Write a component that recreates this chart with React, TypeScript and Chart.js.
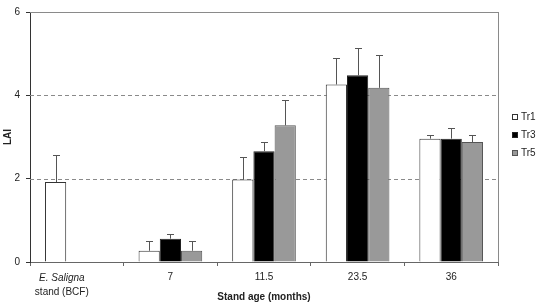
import React, { useEffect, useRef } from "react";
import { Chart, registerables } from "chart.js";

Chart.register(...registerables);

const categories = ["", "7", "11.5", "23.5", "36"];
const firstLabelLines = ["E. Saligna", "stand (BCF)"];
const seriesNames = ["Tr1", "Tr3", "Tr5"];
const tr1 = [1.92, 0.27, 1.98, 4.26, 2.96];
const tr3 = [null, 0.56, 2.66, 4.48, 2.96];
const tr5 = [null, 0.27, 3.28, 4.18, 2.88];
const tr1Err = [0.66, 0.23, 0.54, 0.64, 0.1];
const tr3Err = [null, 0.12, 0.22, 0.66, 0.26];
const tr5Err = [null, 0.23, 0.6, 0.79, 0.16];
const yTicks = [0, 2, 4, 6];

const FONT = "'Liberation Sans', Arial, sans-serif";

export default function App() {
  const ref = useRef<HTMLCanvasElement>(null);
  useEffect(() => {
    document.body.style.margin = "0";
    const canvas = ref.current!;
    const errs = [tr1Err, tr3Err, tr5Err];
    const fills = ["#ffffff", "#000000", "#999999"];
    const borders = ["#333333", "#222222", "#555555"];

    const decor = {
      id: "decor",
      beforeDatasetsDraw(chart: any) {
        const { ctx, chartArea, scales } = chart;
        const y = scales.y;
        ctx.save();
        ctx.lineWidth = 1;
        ctx.strokeStyle = "#8a8a8a";
        [2, 4].forEach((v) => {
          const py = Math.round(y.getPixelForValue(v)) + 0.5;
          ctx.setLineDash([4, 3]);
          ctx.beginPath();
          ctx.moveTo(chartArea.left, py);
          ctx.lineTo(chartArea.right, py);
          ctx.stroke();
        });
        ctx.setLineDash([]);
        const top = Math.round(y.getPixelForValue(6)) + 0.5;
        ctx.beginPath();
        ctx.moveTo(chartArea.left, top);
        ctx.lineTo(chartArea.right, top);
        ctx.stroke();
        const rx = Math.round(chartArea.right) + 0.5;
        ctx.beginPath();
        ctx.moveTo(rx, chartArea.top);
        ctx.lineTo(rx, chartArea.bottom);
        ctx.stroke();
        ctx.restore();
      },
      afterDatasetsDraw(chart: any) {
        const { ctx, scales, chartArea } = chart;
        const y = scales.y;
        const x = scales.x;
        ctx.save();
        ctx.strokeStyle = "#555555";
        ctx.lineWidth = 1;
        chart.data.datasets.forEach((ds: any, di: number) => {
          const meta = chart.getDatasetMeta(di);
          ds.data.forEach((v: any, i: number) => {
            const e = errs[di][i];
            if (v == null || e == null) return;
            const bar = meta.data[i];
            const cx = Math.round(bar.x) + 0.5;
            const y0 = y.getPixelForValue(v);
            const y1 = Math.round(y.getPixelForValue(v + e)) + 0.5;
            ctx.beginPath();
            ctx.moveTo(cx, y0);
            ctx.lineTo(cx, y1);
            ctx.moveTo(cx - 3.5, y1);
            ctx.lineTo(cx + 3.5, y1);
            ctx.stroke();
          });
        });
        // first category label (italic + normal)
        ctx.fillStyle = "#222";
        ctx.textAlign = "center";
        ctx.textBaseline = "middle";
        const lx = x.getPixelForValue(0) - 15;
        ctx.font = `italic 10px ${FONT}`;
        ctx.fillText(firstLabelLines[0], lx, 278);
        ctx.font = `10px ${FONT}`;
        ctx.fillText(firstLabelLines[1], lx, 292);
        // axis titles
        ctx.font = `bold 10px ${FONT}`;
        ctx.fillText("Stand age (months)", (chartArea.left + chartArea.right) / 2, 297);
        ctx.save();
        ctx.translate(8, (chartArea.top + chartArea.bottom) / 2);
        ctx.rotate(-Math.PI / 2);
        ctx.fillText("LAI", 0, 0);
        ctx.restore();
        // legend
        ctx.font = `10px ${FONT}`;
        ctx.textAlign = "left";
        seriesNames.forEach((name, i) => {
          const cy = 117 + i * 18;
          ctx.fillStyle = fills[i];
          ctx.fillRect(512, cy - 3, 6, 6);
          ctx.strokeStyle = borders[i];
          ctx.strokeRect(512.5, cy - 2.5, 5, 5);
          ctx.fillStyle = "#222";
          ctx.fillText(name, 521, cy);
        });
        ctx.restore();
      },
    };

    const chart = new Chart(canvas, {
      type: "bar",
      data: {
        labels: categories,
        datasets: [tr1, tr3, tr5].map((d, i) => ({
          label: seriesNames[i],
          data: d as any,
          backgroundColor: fills[i],
          borderColor: borders[i],
          borderWidth: 1,
          categoryPercentage: 0.68,
          barPercentage: 1.0,
        })),
      },
      options: {
        responsive: false,
        animation: false,
        layout: { padding: { left: 0, right: 43, top: 8, bottom: 0 } },
        plugins: { legend: { display: false }, tooltip: { enabled: false } },
        scales: {
          x: {
            afterFit: (s: any) => {
              s.height = 41;
            },
            grid: {
              display: true,
              drawOnChartArea: false,
              drawTicks: true,
              tickLength: 4,
              color: "#666",
              offset: true,
            },
            border: { display: true, color: "#666", width: 1 },
            ticks: {
              color: "#222",
              font: { family: FONT, size: 10, lineHeight: 1.4 },
              padding: 4,
              maxRotation: 0,
              autoSkip: false,
            },
          },
          y: {
            min: 0,
            max: 6,
            afterFit: (s: any) => {
              s.width = 30;
            },
            afterBuildTicks: (s: any) => {
              s.ticks = yTicks.map((v) => ({ value: v }));
            },
            grid: {
              display: true,
              drawOnChartArea: false,
              drawTicks: true,
              tickLength: 4,
              color: "#333",
            },
            border: { display: true, color: "#333", width: 1 },
            ticks: {
              color: "#222",
              font: { family: FONT, size: 10 },
              padding: 6,
            },
          },
        },
      },
      plugins: [decor],
    });
    return () => chart.destroy();
  }, []);
  return <canvas ref={ref} width={541} height={303} style={{ display: "block" }} />;
}
